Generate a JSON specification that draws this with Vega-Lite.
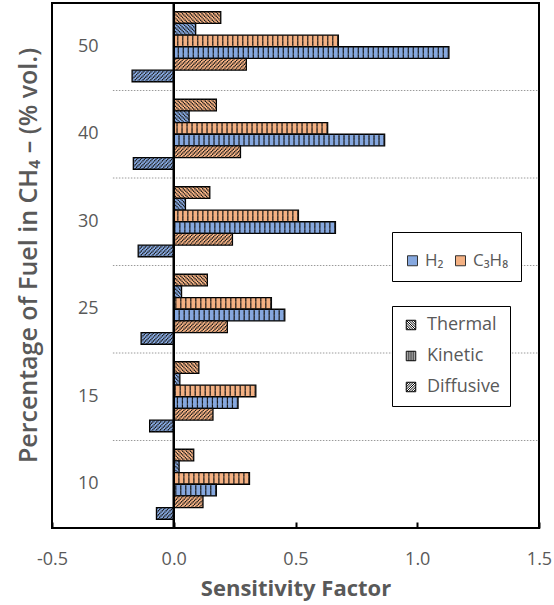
{
  "$schema": "https://vega.github.io/schema/vega-lite/v6.json",
  "width": 487,
  "height": 525,
  "autosize": {"type": "none"},
  "padding": {"left": 52, "top": 3, "right": 15, "bottom": 77},
  "background": "white",
  "datasets": {
    "bars": [
      {"pct": "50", "fuel": "C₃H₈", "type": "Thermal", "series": "C₃H₈ Thermal", "value": 0.193},
      {"pct": "50", "fuel": "H₂", "type": "Thermal", "series": "H₂ Thermal", "value": 0.09},
      {"pct": "50", "fuel": "C₃H₈", "type": "Kinetic", "series": "C₃H₈ Kinetic", "value": 0.676},
      {"pct": "50", "fuel": "H₂", "type": "Kinetic", "series": "H₂ Kinetic", "value": 1.13},
      {"pct": "50", "fuel": "C₃H₈", "type": "Diffusive", "series": "C₃H₈ Diffusive", "value": 0.298},
      {"pct": "50", "fuel": "H₂", "type": "Diffusive", "series": "H₂ Diffusive", "value": -0.171},
      {"pct": "40", "fuel": "C₃H₈", "type": "Thermal", "series": "C₃H₈ Thermal", "value": 0.175},
      {"pct": "40", "fuel": "H₂", "type": "Thermal", "series": "H₂ Thermal", "value": 0.063},
      {"pct": "40", "fuel": "C₃H₈", "type": "Kinetic", "series": "C₃H₈ Kinetic", "value": 0.632},
      {"pct": "40", "fuel": "H₂", "type": "Kinetic", "series": "H₂ Kinetic", "value": 0.866},
      {"pct": "40", "fuel": "C₃H₈", "type": "Diffusive", "series": "C₃H₈ Diffusive", "value": 0.274},
      {"pct": "40", "fuel": "H₂", "type": "Diffusive", "series": "H₂ Diffusive", "value": -0.166},
      {"pct": "30", "fuel": "C₃H₈", "type": "Thermal", "series": "C₃H₈ Thermal", "value": 0.148},
      {"pct": "30", "fuel": "H₂", "type": "Thermal", "series": "H₂ Thermal", "value": 0.048},
      {"pct": "30", "fuel": "C₃H₈", "type": "Kinetic", "series": "C₃H₈ Kinetic", "value": 0.512},
      {"pct": "30", "fuel": "H₂", "type": "Kinetic", "series": "H₂ Kinetic", "value": 0.664},
      {"pct": "30", "fuel": "C₃H₈", "type": "Diffusive", "series": "C₃H₈ Diffusive", "value": 0.241},
      {"pct": "30", "fuel": "H₂", "type": "Diffusive", "series": "H₂ Diffusive", "value": -0.146},
      {"pct": "25", "fuel": "C₃H₈", "type": "Thermal", "series": "C₃H₈ Thermal", "value": 0.138},
      {"pct": "25", "fuel": "H₂", "type": "Thermal", "series": "H₂ Thermal", "value": 0.032},
      {"pct": "25", "fuel": "C₃H₈", "type": "Kinetic", "series": "C₃H₈ Kinetic", "value": 0.401},
      {"pct": "25", "fuel": "H₂", "type": "Kinetic", "series": "H₂ Kinetic", "value": 0.456},
      {"pct": "25", "fuel": "C₃H₈", "type": "Diffusive", "series": "C₃H₈ Diffusive", "value": 0.22},
      {"pct": "25", "fuel": "H₂", "type": "Diffusive", "series": "H₂ Diffusive", "value": -0.134},
      {"pct": "15", "fuel": "C₃H₈", "type": "Thermal", "series": "C₃H₈ Thermal", "value": 0.103},
      {"pct": "15", "fuel": "H₂", "type": "Thermal", "series": "H₂ Thermal", "value": 0.025},
      {"pct": "15", "fuel": "C₃H₈", "type": "Kinetic", "series": "C₃H₈ Kinetic", "value": 0.337},
      {"pct": "15", "fuel": "H₂", "type": "Kinetic", "series": "H₂ Kinetic", "value": 0.264},
      {"pct": "15", "fuel": "C₃H₈", "type": "Diffusive", "series": "C₃H₈ Diffusive", "value": 0.161},
      {"pct": "15", "fuel": "H₂", "type": "Diffusive", "series": "H₂ Diffusive", "value": -0.099},
      {"pct": "10", "fuel": "C₃H₈", "type": "Thermal", "series": "C₃H₈ Thermal", "value": 0.082},
      {"pct": "10", "fuel": "H₂", "type": "Thermal", "series": "H₂ Thermal", "value": 0.022},
      {"pct": "10", "fuel": "C₃H₈", "type": "Kinetic", "series": "C₃H₈ Kinetic", "value": 0.311},
      {"pct": "10", "fuel": "H₂", "type": "Kinetic", "series": "H₂ Kinetic", "value": 0.175},
      {"pct": "10", "fuel": "C₃H₈", "type": "Diffusive", "series": "C₃H₈ Diffusive", "value": 0.12},
      {"pct": "10", "fuel": "H₂", "type": "Diffusive", "series": "H₂ Diffusive", "value": -0.071}
    ],
    "separators": [{"pct": "40"}, {"pct": "30"}, {"pct": "25"}, {"pct": "15"}, {"pct": "10"}],
    "origin": [{"value": 0}]
  },
  "data": {"name": "bars"},
  "config": {
    "font": "Open Sans",
    "view": {"stroke": "#000", "strokeWidth": 2},
    "axis": {"labelFont": "Open Sans", "titleFont": "Open Sans", "labelColor": "#595959", "titleColor": "#595959", "grid": false, "domain": false},
    "legend": {"labelFont": "Open Sans", "labelColor": "#595959"}
  },
  "resolve": {"scale": {"yOffset": "independent", "strokeDash": "independent"}},
  "layer": [
    {
      "data": {"name": "separators"},
      "mark": {"type": "rule", "color": "#9a9a9a", "strokeWidth": 1, "strokeDash": [1.5, 1.5]},
      "encoding": {
        "y": {"field": "pct", "type": "nominal", "bandPosition": -0.125, "scale": {"domain": ["50", "40", "30", "25", "15", "10"], "paddingInner": 0.2, "paddingOuter": 0.1}},
        "x": {"datum": -0.25, "type": "quantitative"},
        "x2": {"datum": 1.5}
      }
    },
    {
      "mark": {"type": "bar", "stroke": "#000", "strokeWidth": 1.3},
      "encoding": {
        "y": {"field": "pct", "type": "nominal",
          "scale": {"domain": ["50", "40", "30", "25", "15", "10"], "paddingInner": 0.2, "paddingOuter": 0.1},
          "axis": {"title": "Percentage of Fuel in CH₄ – (% vol.)", "ticks": false, "labelPadding": -46, "labelAlign": "right", "labelBaseline": "middle", "labelFontSize": 18, "titleFontSize": 25, "titleFontWeight": 600, "titleX": -24, "titleY": 252, "titleBaseline": "middle"}},
        "yOffset": {"field": "series", "type": "nominal", "scale": {"domain": ["C₃H₈ Thermal", "H₂ Thermal", "C₃H₈ Kinetic", "H₂ Kinetic", "C₃H₈ Diffusive", "H₂ Diffusive"], "range": [0, 70], "paddingInner": 0, "paddingOuter": 0}},
        "x": {"field": "value", "type": "quantitative", "stack": null, "scale": {"domain": [-0.5, 1.5], "nice": false, "zero": false},
          "axis": {"title": "Sensitivity Factor", "values": [-0.5, 0, 0.5, 1, 1.5], "format": ".1f", "labelExpr": "replace(datum.label, '−', '-')", "labelFontSize": 18, "labelFlush": false, "ticks": true, "tickSize": -6, "tickWidth": 2, "tickColor": "#000", "labelPadding": 37, "labelBaseline": "middle", "titleFontSize": 22, "titleFontWeight": "bold", "titleY": 60, "titleBaseline": "middle"}},
        "fill": {"field": "fuel", "type": "nominal", "scale": {"domain": ["H₂", "C₃H₈"], "range": ["#86A8DF", "#F4B183"]},
          "legend": {"orient": "none", "legendX": 340, "legendY": 229, "direction": "horizontal", "title": " ", "titleFontSize": 8, "titlePadding": 0, "padding": 12, "strokeColor": "#000", "fillColor": "#fff", "symbolType": "square", "symbolSize": 100, "symbolStrokeColor": "#333", "symbolStrokeWidth": 1, "labelFontSize": 17, "columnPadding": 8, "labelOffset": 4}}
      }
    },
    {
      "mark": {"type": "rule", "color": "#1a1a1a", "strokeWidth": 1.45},
      "encoding": {
        "y": {"field": "pct", "type": "nominal", "scale": {"domain": ["50", "40", "30", "25", "15", "10"], "paddingInner": 0.2, "paddingOuter": 0.1}},
        "yOffset": {"field": "series", "type": "nominal", "scale": {"domain": ["C₃H₈ Thermal", "H₂ Thermal", "C₃H₈ Kinetic", "H₂ Kinetic", "C₃H₈ Diffusive", "H₂ Diffusive"], "range": [-5.185, 64.815], "paddingInner": 0, "paddingOuter": 0}},
        "x": {"field": "value", "type": "quantitative"},
        "x2": {"datum": 0},
        "strokeDash": {"field": "series", "type": "nominal", "legend": null, "scale": {"domain": ["C₃H₈ Thermal", "H₂ Thermal", "C₃H₈ Kinetic", "H₂ Kinetic", "C₃H₈ Diffusive", "H₂ Diffusive"], "range": [[1.25, 2.639], [1.25, 2.639], [1.2, 3.8], [1.2, 3.8], [1.25, 2.639], [1.25, 2.639]]}}
      }
    },
    {
      "mark": {"type": "rule", "color": "#1a1a1a", "strokeWidth": 1.45},
      "encoding": {
        "y": {"field": "pct", "type": "nominal", "scale": {"domain": ["50", "40", "30", "25", "15", "10"], "paddingInner": 0.2, "paddingOuter": 0.1}},
        "yOffset": {"field": "series", "type": "nominal", "scale": {"domain": ["C₃H₈ Thermal", "H₂ Thermal", "C₃H₈ Kinetic", "H₂ Kinetic", "C₃H₈ Diffusive", "H₂ Diffusive"], "range": [-3.889, 66.111], "paddingInner": 0, "paddingOuter": 0}},
        "x": {"field": "value", "type": "quantitative"},
        "x2": {"datum": 0},
        "strokeDash": {"field": "series", "type": "nominal", "legend": null, "scale": {"domain": ["C₃H₈ Thermal", "H₂ Thermal", "C₃H₈ Kinetic", "H₂ Kinetic", "C₃H₈ Diffusive", "H₂ Diffusive"], "range": [[0, 2.593, 1.25, 0.046], [0, 2.593, 1.25, 0.046], [1.2, 3.8], [1.2, 3.8], [0, 1.296, 1.25, 1.343], [0, 2.593, 1.25, 0.046]]}}
      }
    },
    {
      "mark": {"type": "rule", "color": "#1a1a1a", "strokeWidth": 1.45},
      "encoding": {
        "y": {"field": "pct", "type": "nominal", "scale": {"domain": ["50", "40", "30", "25", "15", "10"], "paddingInner": 0.2, "paddingOuter": 0.1}},
        "yOffset": {"field": "series", "type": "nominal", "scale": {"domain": ["C₃H₈ Thermal", "H₂ Thermal", "C₃H₈ Kinetic", "H₂ Kinetic", "C₃H₈ Diffusive", "H₂ Diffusive"], "range": [-2.593, 67.407], "paddingInner": 0, "paddingOuter": 0}},
        "x": {"field": "value", "type": "quantitative"},
        "x2": {"datum": 0},
        "strokeDash": {"field": "series", "type": "nominal", "legend": null, "scale": {"domain": ["C₃H₈ Thermal", "H₂ Thermal", "C₃H₈ Kinetic", "H₂ Kinetic", "C₃H₈ Diffusive", "H₂ Diffusive"], "range": [[0, 1.296, 1.25, 1.343], [0, 1.296, 1.25, 1.343], [1.2, 3.8], [1.2, 3.8], [0, 2.593, 1.25, 0.046], [0, 1.296, 1.25, 1.343]]}}
      }
    },
    {
      "mark": {"type": "rule", "color": "#1a1a1a", "strokeWidth": 1.45},
      "encoding": {
        "y": {"field": "pct", "type": "nominal", "scale": {"domain": ["50", "40", "30", "25", "15", "10"], "paddingInner": 0.2, "paddingOuter": 0.1}},
        "yOffset": {"field": "series", "type": "nominal", "scale": {"domain": ["C₃H₈ Thermal", "H₂ Thermal", "C₃H₈ Kinetic", "H₂ Kinetic", "C₃H₈ Diffusive", "H₂ Diffusive"], "range": [-1.296, 68.704], "paddingInner": 0, "paddingOuter": 0}},
        "x": {"field": "value", "type": "quantitative"},
        "x2": {"datum": 0},
        "strokeDash": {"field": "series", "type": "nominal", "legend": null, "scale": {"domain": ["C₃H₈ Thermal", "H₂ Thermal", "C₃H₈ Kinetic", "H₂ Kinetic", "C₃H₈ Diffusive", "H₂ Diffusive"], "range": [[1.25, 2.639], [1.25, 2.639], [1.2, 3.8], [1.2, 3.8], [1.25, 2.639], [1.25, 2.639]]}}
      }
    },
    {
      "mark": {"type": "rule", "color": "#1a1a1a", "strokeWidth": 1.45},
      "encoding": {
        "y": {"field": "pct", "type": "nominal", "scale": {"domain": ["50", "40", "30", "25", "15", "10"], "paddingInner": 0.2, "paddingOuter": 0.1}},
        "yOffset": {"field": "series", "type": "nominal", "scale": {"domain": ["C₃H₈ Thermal", "H₂ Thermal", "C₃H₈ Kinetic", "H₂ Kinetic", "C₃H₈ Diffusive", "H₂ Diffusive"], "range": [0, 70], "paddingInner": 0, "paddingOuter": 0}},
        "x": {"field": "value", "type": "quantitative"},
        "x2": {"datum": 0},
        "strokeDash": {"field": "series", "type": "nominal", "legend": null, "scale": {"domain": ["C₃H₈ Thermal", "H₂ Thermal", "C₃H₈ Kinetic", "H₂ Kinetic", "C₃H₈ Diffusive", "H₂ Diffusive"], "range": [[0, 2.593, 1.25, 0.046], [0, 2.593, 1.25, 0.046], [1.2, 3.8], [1.2, 3.8], [0, 1.296, 1.25, 1.343], [0, 2.593, 1.25, 0.046]]}}
      }
    },
    {
      "mark": {"type": "rule", "color": "#1a1a1a", "strokeWidth": 1.45},
      "encoding": {
        "y": {"field": "pct", "type": "nominal", "scale": {"domain": ["50", "40", "30", "25", "15", "10"], "paddingInner": 0.2, "paddingOuter": 0.1}},
        "yOffset": {"field": "series", "type": "nominal", "scale": {"domain": ["C₃H₈ Thermal", "H₂ Thermal", "C₃H₈ Kinetic", "H₂ Kinetic", "C₃H₈ Diffusive", "H₂ Diffusive"], "range": [1.296, 71.296], "paddingInner": 0, "paddingOuter": 0}},
        "x": {"field": "value", "type": "quantitative"},
        "x2": {"datum": 0},
        "strokeDash": {"field": "series", "type": "nominal", "legend": null, "scale": {"domain": ["C₃H₈ Thermal", "H₂ Thermal", "C₃H₈ Kinetic", "H₂ Kinetic", "C₃H₈ Diffusive", "H₂ Diffusive"], "range": [[0, 1.296, 1.25, 1.343], [0, 1.296, 1.25, 1.343], [1.2, 3.8], [1.2, 3.8], [0, 2.593, 1.25, 0.046], [0, 1.296, 1.25, 1.343]]}}
      }
    },
    {
      "mark": {"type": "rule", "color": "#1a1a1a", "strokeWidth": 1.45},
      "encoding": {
        "y": {"field": "pct", "type": "nominal", "scale": {"domain": ["50", "40", "30", "25", "15", "10"], "paddingInner": 0.2, "paddingOuter": 0.1}},
        "yOffset": {"field": "series", "type": "nominal", "scale": {"domain": ["C₃H₈ Thermal", "H₂ Thermal", "C₃H₈ Kinetic", "H₂ Kinetic", "C₃H₈ Diffusive", "H₂ Diffusive"], "range": [2.593, 72.593], "paddingInner": 0, "paddingOuter": 0}},
        "x": {"field": "value", "type": "quantitative"},
        "x2": {"datum": 0},
        "strokeDash": {"field": "series", "type": "nominal", "legend": null, "scale": {"domain": ["C₃H₈ Thermal", "H₂ Thermal", "C₃H₈ Kinetic", "H₂ Kinetic", "C₃H₈ Diffusive", "H₂ Diffusive"], "range": [[1.25, 2.639], [1.25, 2.639], [1.2, 3.8], [1.2, 3.8], [1.25, 2.639], [1.25, 2.639]]}}
      }
    },
    {
      "mark": {"type": "rule", "color": "#1a1a1a", "strokeWidth": 1.45},
      "encoding": {
        "y": {"field": "pct", "type": "nominal", "scale": {"domain": ["50", "40", "30", "25", "15", "10"], "paddingInner": 0.2, "paddingOuter": 0.1}},
        "yOffset": {"field": "series", "type": "nominal", "scale": {"domain": ["C₃H₈ Thermal", "H₂ Thermal", "C₃H₈ Kinetic", "H₂ Kinetic", "C₃H₈ Diffusive", "H₂ Diffusive"], "range": [3.889, 73.889], "paddingInner": 0, "paddingOuter": 0}},
        "x": {"field": "value", "type": "quantitative"},
        "x2": {"datum": 0},
        "strokeDash": {"field": "series", "type": "nominal", "legend": null, "scale": {"domain": ["C₃H₈ Thermal", "H₂ Thermal", "C₃H₈ Kinetic", "H₂ Kinetic", "C₃H₈ Diffusive", "H₂ Diffusive"], "range": [[0, 2.593, 1.25, 0.046], [0, 2.593, 1.25, 0.046], [1.2, 3.8], [1.2, 3.8], [0, 1.296, 1.25, 1.343], [0, 2.593, 1.25, 0.046]]}}
      }
    },
    {
      "mark": {"type": "rule", "color": "#1a1a1a", "strokeWidth": 1.45},
      "encoding": {
        "y": {"field": "pct", "type": "nominal", "scale": {"domain": ["50", "40", "30", "25", "15", "10"], "paddingInner": 0.2, "paddingOuter": 0.1}},
        "yOffset": {"field": "series", "type": "nominal", "scale": {"domain": ["C₃H₈ Thermal", "H₂ Thermal", "C₃H₈ Kinetic", "H₂ Kinetic", "C₃H₈ Diffusive", "H₂ Diffusive"], "range": [5.185, 75.185], "paddingInner": 0, "paddingOuter": 0}},
        "x": {"field": "value", "type": "quantitative"},
        "x2": {"datum": 0},
        "strokeDash": {"field": "series", "type": "nominal", "legend": null, "scale": {"domain": ["C₃H₈ Thermal", "H₂ Thermal", "C₃H₈ Kinetic", "H₂ Kinetic", "C₃H₈ Diffusive", "H₂ Diffusive"], "range": [[0, 1.296, 1.25, 1.343], [0, 1.296, 1.25, 1.343], [1.2, 3.8], [1.2, 3.8], [0, 2.593, 1.25, 0.046], [0, 1.296, 1.25, 1.343]]}}
      }
    },
    {
      "data": {"name": "origin"},
      "mark": {"type": "rule", "color": "#000", "strokeWidth": 2.5},
      "encoding": {"x": {"field": "value", "type": "quantitative"}}
    },
    {
      "mark": {"type": "point", "filled": false, "opacity": 0, "color": "#000"},
      "encoding": {
        "x": {"field": "value", "type": "quantitative"},
        "y": {"field": "pct", "type": "nominal", "scale": {"domain": ["50", "40", "30", "25", "15", "10"], "paddingInner": 0.2, "paddingOuter": 0.1}},
        "shape": {"field": "type", "type": "nominal",
          "scale": {"domain": ["Thermal", "Kinetic", "Diffusive"], "range": [
            "M-1,-1H1V1H-1Z M-1,0.5L-0.5,1 M-1,0L0,1 M-1,-0.5L0.5,1 M-1,-1L1,1 M-0.5,-1L1,0.5 M0,-1L1,0 M0.5,-1L1,-0.5",
            "M-1,-1H1V1H-1Z M-0.6,-1V1 M-0.2,-1V1 M0.2,-1V1 M0.6,-1V1",
            "M-1,-1H1V1H-1Z M-1,1L1,-1 M-0.5,1L1,-0.5 M0,1L1,0 M0.5,1L1,0.5 M-1,0.5L0.5,-1 M-1,0L0,-1 M-1,-0.5L-0.5,-1"
          ]},
          "legend": {"orient": "none", "legendX": 340, "legendY": 303, "title": null, "padding": 10, "strokeColor": "#000", "fillColor": "#fff", "symbolSize": 90, "symbolStrokeColor": "#000", "symbolStrokeWidth": 1, "symbolOpacity": 1, "symbolFillColor": "transparent", "labelFontSize": 18, "rowPadding": 13, "labelOffset": 7}}
      }
    }
  ]
}
